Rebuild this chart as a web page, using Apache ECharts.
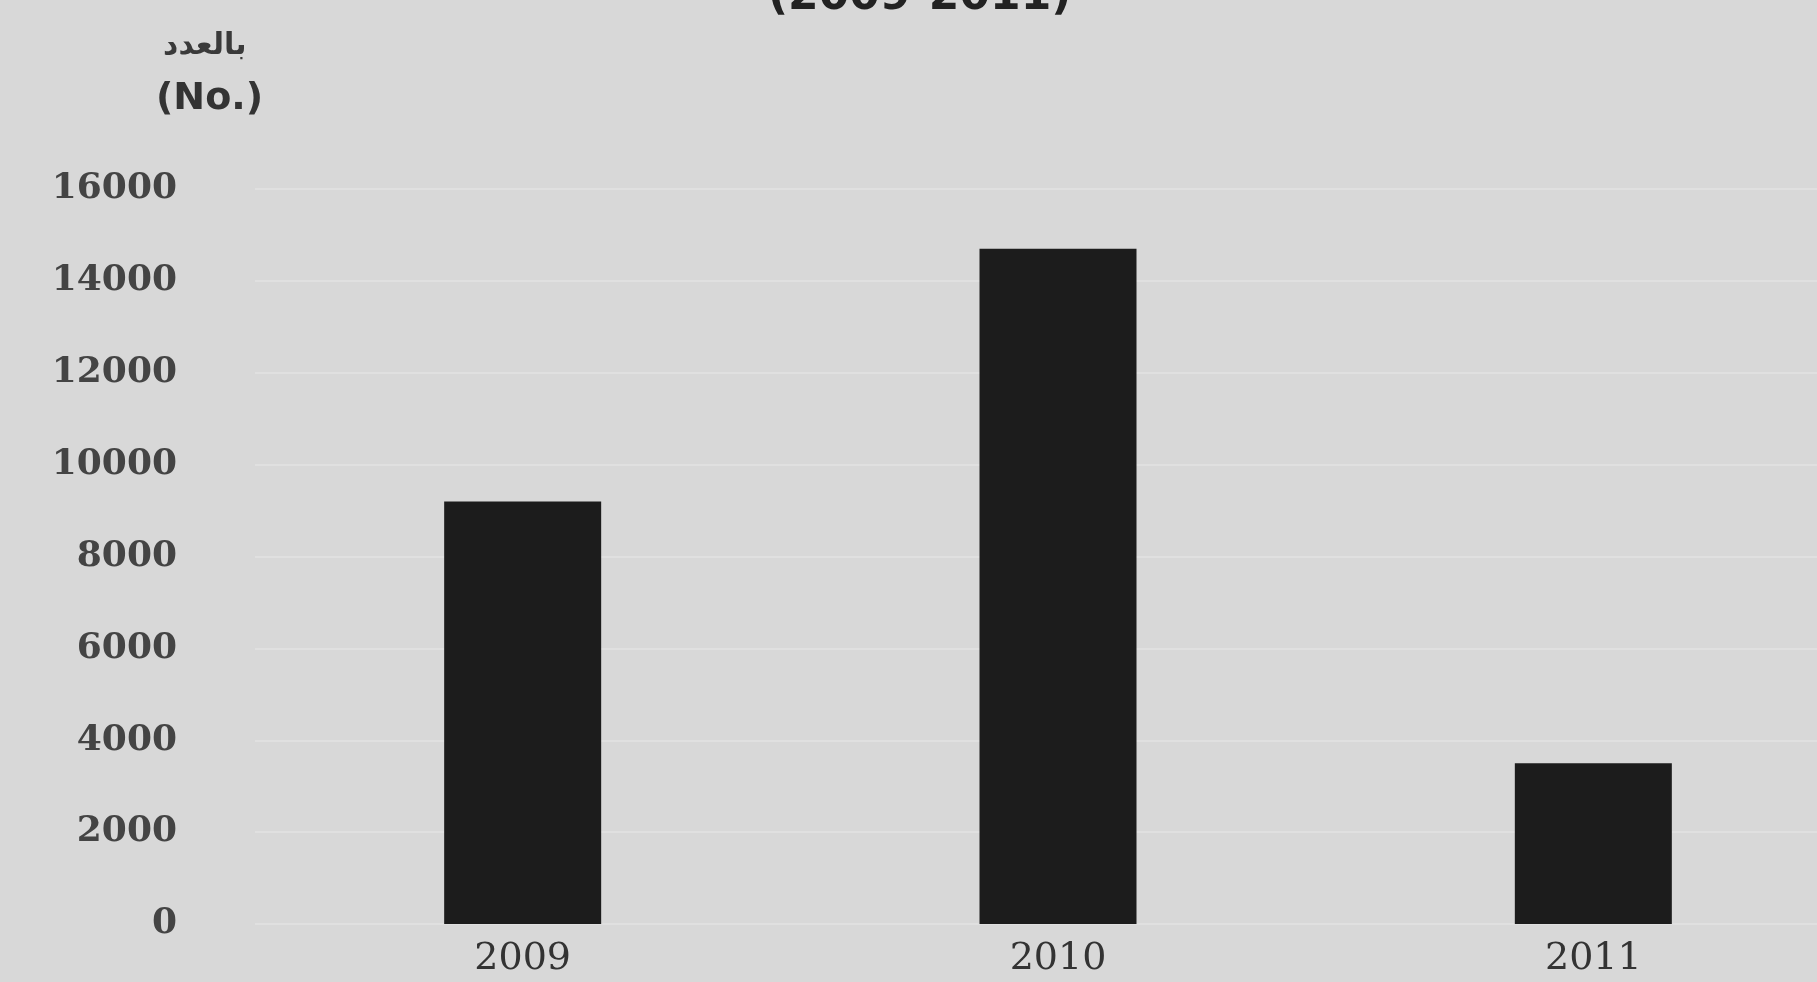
<!DOCTYPE html>
<html><head><meta charset="utf-8">
<script src="https://cdn.jsdelivr.net/npm/echarts@6/dist/echarts.min.js"></script>
<style>html,body{margin:0;padding:0;background:#d8d8d8;overflow:hidden;width:1817px;height:982px;}#c{width:1900px;height:982px;}</style>
</head><body><div id="c"></div>
<script>
var categories = ['2009', '2010', '2011'];
var values = [9200, 14700, 3500];
var yTicks = [0, 2000, 4000, 6000, 8000, 10000, 12000, 14000, 16000];
var titleText = '(2009-2011)';
var unitAr = 'بالعدد';
var unitEn = '(No.)';

var chart = echarts.init(document.getElementById('c'));
chart.setOption({
  backgroundColor: '#d8d8d8',
  animation: false,
  title: {
    text: titleText, left: 763, top: -29,
    textStyle: {fontFamily: 'DejaVu Sans', fontSize: 44, fontWeight: 'bold', color: '#222'}
  },
  graphic: [
    {type: 'text', left: 163, top: 31, style: {text: unitAr, fontFamily: 'DejaVu Sans', fontSize: 30, fontWeight: 'bold', fill: '#3a3a3a'}},
    {type: 'text', left: 156, top: 80, style: {text: unitEn, fontFamily: 'DejaVu Sans', fontSize: 38, fontWeight: 'bold', fill: '#333'}}
  ],
  grid: {left: 255, top: 189, width: 1606, height: 735},
  xAxis: {
    type: 'category', data: categories,
    axisLine: {show: false}, axisTick: {show: false},
    axisLabel: {margin: 16, fontFamily: 'DejaVu Serif', fontSize: 38, color: '#333'}
  },
  yAxis: {
    type: 'value', min: 0, max: 16000, interval: 2000,
    axisLine: {show: false}, axisTick: {show: false},
    splitLine: {lineStyle: {color: '#e0e0e0', width: 2}},
    axisLabel: {margin: 78, fontFamily: 'DejaVu Serif', fontSize: 36, fontWeight: 'bold', color: '#444',
      formatter: function (v) { return yTicks.indexOf(v) >= 0 ? String(v) : ''; }}
  },
  series: [{
    type: 'bar', data: values, barWidth: 157,
    itemStyle: {color: '#1c1c1c'}
  }]
});
</script></body></html>
